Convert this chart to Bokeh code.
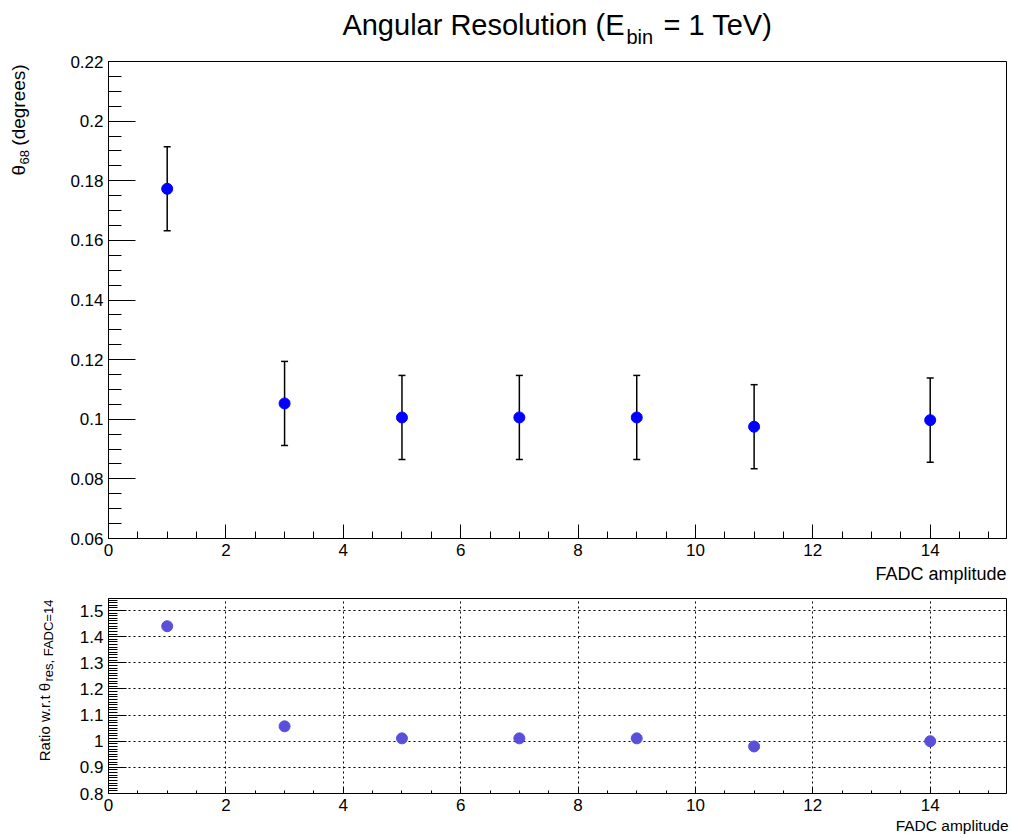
import math
from bokeh.plotting import figure
from bokeh.layouts import column, row
from bokeh.models import (ColumnDataSource, Whisker, TeeHead, FixedTicker,
                          CustomJSTickFormatter, Range1d)
from bokeh.core.properties import value
from bokeh.embed import file_html
from bokeh.resources import INLINE

# ---------------- data ----------------
fadc = [1, 3, 5, 7, 9, 11, 14]
theta68 = [0.1773, 0.1053, 0.1006, 0.1006, 0.1006, 0.0975, 0.0997]
theta68_err = [0.0141, 0.0141, 0.0141, 0.0141, 0.0141, 0.0141, 0.0141]
ratio = [1.440, 1.057, 1.011, 1.011, 1.011, 0.980, 1.000]

x_ticks = [0, 2, 4, 6, 8, 10, 12, 14]
x_tick_labels = ["0", "2", "4", "6", "8", "10", "12", "14"]
y_ticks = [0.06, 0.08, 0.10, 0.12, 0.14, 0.16, 0.18, 0.20, 0.22]
y_tick_labels = ["0.06", "0.08", "0.1", "0.12", "0.14", "0.16", "0.18", "0.2", "0.22"]
r_ticks = [0.8, 0.9, 1.0, 1.1, 1.2, 1.3, 1.4, 1.5]
r_tick_labels = ["0.8", "0.9", "1", "1.1", "1.2", "1.3", "1.4", "1.5"]

FONT = "Liberation Sans"

# ---------------- layout (page pixels, origin top-left) ----------------
W = 1011
LW = 58                      # width of the y-label strips
FL, FR = 108, 1006           # frame left/right
T_TOP, T_BOT = 61, 538       # top panel frame
B_TOP, B_BOT = 598, 793      # bottom panel frame
TITLE_H = 53                 # 0 -> 53
TOP_END = 563                # top row 53 -> 563
XL1_END = 585                # x label strip 563 -> 585
BOT_END = 815                # bottom row 585 -> 815
XL2_END = 836                # x label strip 815 -> 836
X0, X1 = 0.0, 15.3
Y0, Y1 = 0.06, 0.22
R0, R1 = 0.8, 1.546
BASE_SHIFT = 0.36            # text baseline correction (fraction of font size)


def fmt(ticks, labels):
    return CustomJSTickFormatter(args=dict(t=ticks, l=labels), code="""
        for (let i = 0; i < t.length; i++) { if (Math.abs(t[i] - tick) < 1e-6) return l[i]; }
        return '';
    """)


def minor(lo, hi, step):
    n = int(round((hi - lo) / step))
    return [round(lo + i * step, 4) for i in range(n + 1)]


def style_axis(ax, maj_in, min_in, size):
    ax.axis_line_color = "black"
    ax.axis_line_width = 1
    ax.major_tick_out = 0
    ax.minor_tick_out = 0
    ax.major_tick_in = maj_in
    ax.minor_tick_in = min_in
    ax.major_tick_line_color = "black"
    ax.minor_tick_line_color = "black"
    ax.major_label_text_font = FONT
    ax.major_label_text_font_size = size
    ax.major_label_text_color = "black"
    ax.major_label_standoff = 5


def strip(x_left, y_top, width, height, items):
    """A plain figure used only to hold texts; items use page pixel coords (baseline)."""
    f = figure(width=width, height=height, x_range=Range1d(0, width), y_range=Range1d(0, height),
               output_backend="svg", toolbar_location=None, x_axis_type=None, y_axis_type=None,
               min_border=0, min_border_left=0, min_border_right=0,
               min_border_top=0, min_border_bottom=0)
    f.outline_line_color = None
    f.background_fill_color = "white"
    f.border_fill_color = "white"
    f.xgrid.visible = False
    f.ygrid.visible = False
    for text, px, py, size, align, angle in items:
        d = BASE_SHIFT * size
        qx = px - d * math.sin(angle)
        qy = py - d * math.cos(angle)
        f.text(x=[qx - x_left], y=[height - (qy - y_top)], text=[text],
               text_font=value(FONT), text_font_size=value(f"{size}px"),
               text_align=align, text_baseline="alphabetic", angle=angle,
               text_color="black")
    return f


# ---------------- title ----------------
title_fig = strip(0, 0, W, TITLE_H, [
    ("Angular Resolution (E", 624, 35, 29, "right", 0.0),
    ("bin", 626, 44, 20, "left", 0.0),
    ("= 1 TeV)", 663, 35, 29, "left", 0.0),
])

# ---------------- top panel ----------------
top_h = TOP_END - TITLE_H
top = figure(width=W - LW, height=top_h, x_range=Range1d(X0, X1), y_range=Range1d(Y0, Y1),
             output_backend="svg", toolbar_location=None,
             min_border_left=FL - LW, min_border_right=W - FR,
             min_border_top=T_TOP - TITLE_H, min_border_bottom=TOP_END - T_BOT)
top.xgrid.visible = False
top.ygrid.visible = False
top.outline_line_color = "black"
top.outline_line_alpha = 1
top.background_fill_color = "white"
top.border_fill_color = "white"

top.xaxis.ticker = FixedTicker(ticks=x_ticks, minor_ticks=minor(0, 15, 0.5))
top.xaxis.formatter = fmt(x_ticks, x_tick_labels)
top.yaxis.ticker = FixedTicker(ticks=y_ticks, minor_ticks=minor(0.06, 0.22, 0.005))
top.yaxis.formatter = fmt(y_ticks, y_tick_labels)
style_axis(top.xaxis[0], 14, 7, "17px")
style_axis(top.yaxis[0], 27, 13, "17px")

src = ColumnDataSource(dict(
    x=fadc, y=theta68,
    lo=[v - e for v, e in zip(theta68, theta68_err)],
    hi=[v + e for v, e in zip(theta68, theta68_err)]))
top.add_layout(Whisker(source=src, base="x", lower="lo", upper="hi",
                       line_color="black", line_width=1.5,
                       upper_head=TeeHead(size=7, line_color="black", line_width=1.5),
                       lower_head=TeeHead(size=7, line_color="black", line_width=1.5)))
top.scatter("x", "y", source=src, size=11, color="#0000ff", line_color="#0000ff")

ylab1 = strip(0, TITLE_H, LW, top_h, [
    ("θ", 25, 175, 19, "left", math.pi / 2),
    ("68", 29, 163, 13, "left", math.pi / 2),
    ("(degrees)", 25, 143, 19, "left", math.pi / 2),
])

xlab1 = strip(0, TOP_END, W, XL1_END - TOP_END, [
    ("FADC amplitude", FR, 580, 18, "right", 0.0),
])

# ---------------- bottom panel ----------------
bot_h = BOT_END - XL1_END
bot = figure(width=W - LW, height=bot_h, x_range=Range1d(X0, X1), y_range=Range1d(R0, R1),
             output_backend="svg", toolbar_location=None,
             min_border_left=FL - LW, min_border_right=W - FR,
             min_border_top=B_TOP - XL1_END, min_border_bottom=BOT_END - B_BOT)
bot.outline_line_color = "black"
bot.outline_line_alpha = 1
bot.background_fill_color = "white"
bot.border_fill_color = "white"

bot.xaxis.ticker = FixedTicker(ticks=x_ticks, minor_ticks=minor(0, 15, 0.5))
bot.xaxis.formatter = fmt(x_ticks, x_tick_labels)
bot.yaxis.ticker = FixedTicker(ticks=r_ticks, minor_ticks=minor(0.8, 1.54, 0.01))
bot.yaxis.formatter = fmt(r_ticks, r_tick_labels)
style_axis(bot.xaxis[0], 6, 3, "17px")
style_axis(bot.yaxis[0], 18, 9, "17px")
for g in (bot.xgrid[0], bot.ygrid[0]):
    g.grid_line_color = "black"
    g.grid_line_alpha = 1
    g.grid_line_width = 1
    g.grid_line_dash = "2 3"
bot.xgrid[0].ticker = bot.xaxis[0].ticker
bot.ygrid[0].ticker = bot.yaxis[0].ticker

bot.scatter(fadc, ratio, size=11, color="#5a4fdb", line_color="#5a4fdb")

ylab2 = strip(0, XL1_END, LW, bot_h, [
    ("Ratio w.r.t θ", 49, 777, 15, "left", math.pi / 2),
    ("res, FADC=14", 53, 683, 13, "left", math.pi / 2),
])

xlab2 = strip(0, BOT_END, W, XL2_END - BOT_END, [
    ("FADC amplitude", 1008, 831, 15.5, "right", 0.0),
])

layout = column(title_fig, row(ylab1, top, spacing=0), xlab1,
                row(ylab2, bot, spacing=0), xlab2, spacing=0)
open("out.html", "w").write(file_html(layout, INLINE))
